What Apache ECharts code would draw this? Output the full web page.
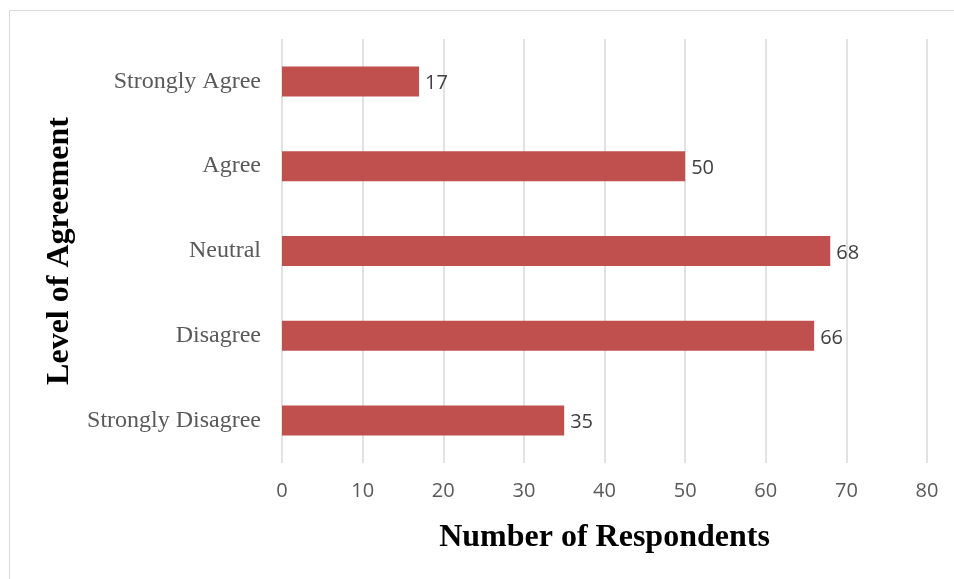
<!DOCTYPE html>
<html>
<head>
<meta charset="utf-8">
<script src="https://cdn.jsdelivr.net/npm/echarts@6/dist/echarts.min.js"></script>
<style>
  html, body { margin: 0; padding: 0; background: #ffffff; }
  #chart { width: 954px; height: 579px; }
</style>
</head>
<body>
<div id="chart"></div>
<script>
// Survey responses by level of agreement
const categories = ['Strongly Agree', 'Agree', 'Neutral', 'Disagree', 'Strongly Disagree'];
const respondents = [17, 50, 68, 66, 35];
const xTicks = { min: 0, max: 80, interval: 10 };

const chart = echarts.init(document.getElementById('chart'), null, { renderer: 'canvas' });

chart.setOption({
  backgroundColor: '#ffffff',
  animation: false,
  graphic: [{
    type: 'rect',
    shape: { x: 9.5, y: 10.5, width: 960, height: 600 },
    style: { fill: 'none', stroke: '#d9d9d9', lineWidth: 1 },
    silent: true
  }],
  grid: { left: 282, right: 27, top: 39, bottom: 116 },
  xAxis: {
    type: 'value',
    min: xTicks.min,
    max: xTicks.max,
    interval: xTicks.interval,
    name: 'Number of Respondents',
    nameLocation: 'middle',
    nameGap: 59,
    nameTextStyle: { fontFamily: 'Liberation Serif', fontWeight: 'bold', fontSize: 32, color: '#000000' },
    axisLine: { show: false },
    axisTick: { show: false },
    axisLabel: { fontFamily: 'Open Sans', fontSize: 20, color: '#595959', margin: 18 },
    splitLine: { show: true, lineStyle: { color: '#d9d9d9', width: 1.5 } }
  },
  yAxis: {
    type: 'category',
    data: categories,
    inverse: true,
    name: 'Level of Agreement',
    nameLocation: 'middle',
    nameGap: 204,
    nameRotate: 90,
    nameTextStyle: { fontFamily: 'Liberation Serif', fontWeight: 'bold', fontSize: 32, color: '#000000' },
    axisLine: { show: false },
    axisTick: { show: false },
    axisLabel: { fontFamily: 'Liberation Serif', fontSize: 24, color: '#595959', margin: 21 },
    splitLine: { show: false }
  },
  series: [{
    type: 'bar',
    data: respondents,
    barWidth: 30,
    itemStyle: { color: '#c0504d' },
    label: {
      show: true,
      position: 'right',
      distance: 6,
      offset: [0, 2],
      fontFamily: 'Open Sans',
      fontSize: 20,
      color: '#404040'
    }
  }]
});
</script>
</body>
</html>
